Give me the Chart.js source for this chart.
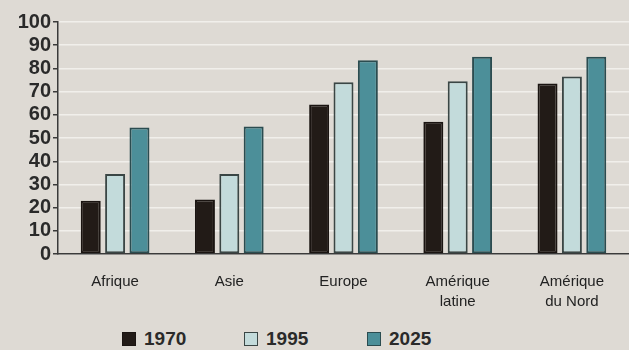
<!DOCTYPE html>
<html lang="fr">
<head>
<meta charset="utf-8">
<title>Population urbaine</title>
<script src="https://cdn.jsdelivr.net/npm/chart.js@4/dist/chart.umd.min.js"></script>
<style>
  html, body { margin: 0; padding: 0; background: #dedad4; }
  #wrap { position: relative; width: 629px; height: 350px; overflow: hidden; }
  #chart { position: absolute; left: 0; top: 0; }
  #legend { position: absolute; left: 0; top: 328px; width: 629px; height: 22px;
            font-family: 'Liberation Sans', Arial, sans-serif; font-weight: bold;
            font-size: 19px; color: #2a2a2a; }
  #legend .item { position: absolute; top: 0; line-height: 22px; white-space: nowrap; }
  #legend .box { display: inline-block; width: 14px; height: 14px; vertical-align: -1px;
                 margin-right: 8px; box-sizing: border-box; border: 1px solid #333; }
</style>
</head>
<body>
<div id="wrap">
  <canvas id="chart" width="629" height="326"></canvas>
  <div id="legend"></div>
</div>
<script>
(function() {
  'use strict';

  // data (%)
  var categories = [['Afrique'], ['Asie'], ['Europe'], ['Amérique', 'latine'], ['Amérique', 'du Nord']];
  var years = ['1970', '1995', '2025'];
  var values1970 = [23, 23.5, 64.5, 57, 73.5];
  var values1995 = [34.5, 34.5, 74, 74.5, 76.5];
  var values2025 = [54.5, 55, 83.5, 85, 85];
  var yTicks = [0, 10, 20, 30, 40, 50, 60, 70, 80, 90, 100];

  var fills = ['#221b17', '#c3dbdb', '#4c8f99'];
  var borders = ['#1a1411', '#3a4645', '#2b4c50'];
  var legendX = [122, 244, 367];

  var font = "'Liberation Sans', Arial, sans-serif";

  function dataset(i, values) {
    return {
      label: years[i],
      data: values,
      backgroundColor: fills[i],
      borderColor: borders[i],
      borderWidth: 2,
      borderSkipped: false,
      categoryPercentage: 0.64,
      barPercentage: 0.82
    };
  }

  var chart = new Chart(document.getElementById('chart'), {
    type: 'bar',
    data: {
      labels: categories,
      datasets: [dataset(0, values1970), dataset(1, values1995), dataset(2, values2025)]
    },
    options: {
      responsive: false,
      animation: false,
      events: [],
      layout: { padding: { left: 13, right: 0, top: 22, bottom: 4 } },
      plugins: {
        legend: { display: false },
        tooltip: { enabled: false }
      },
      scales: {
        x: {
          grid: { display: false },
          border: { display: true, color: '#3a3a3a', width: 1.5 },
          ticks: {
            color: '#222',
            padding: 10,
            font: { family: font, size: 15, lineHeight: 1.33 },
            maxRotation: 0,
            autoSkip: false
          }
        },
        y: {
          min: 0,
          max: 100,
          afterFit: function(scale) { scale.width = 45; },
          afterBuildTicks: function(scale) {
            scale.ticks = yTicks.map(function(v) { return { value: v }; });
          },
          grid: {
            color: '#f1efeb',
            lineWidth: 1.5,
            tickColor: '#3a3a3a',
            tickLength: 5
          },
          border: { display: true, color: '#3a3a3a', width: 1.5 },
          ticks: {
            color: '#2a2a2a',
            padding: 2,
            autoSkip: false,
            font: { family: font, size: 20, weight: 'bold' }
          }
        }
      }
    }
  });

  // html legend built from the datasets
  var legend = document.getElementById('legend');
  chart.data.datasets.forEach(function(ds, i) {
    var item = document.createElement('div');
    item.className = 'item';
    item.style.left = legendX[i] + 'px';
    var box = document.createElement('span');
    box.className = 'box';
    box.style.background = ds.backgroundColor;
    box.style.borderColor = ds.borderColor;
    item.appendChild(box);
    item.appendChild(document.createTextNode(ds.label));
    legend.appendChild(item);
  });
})();
</script>
</body>
</html>
